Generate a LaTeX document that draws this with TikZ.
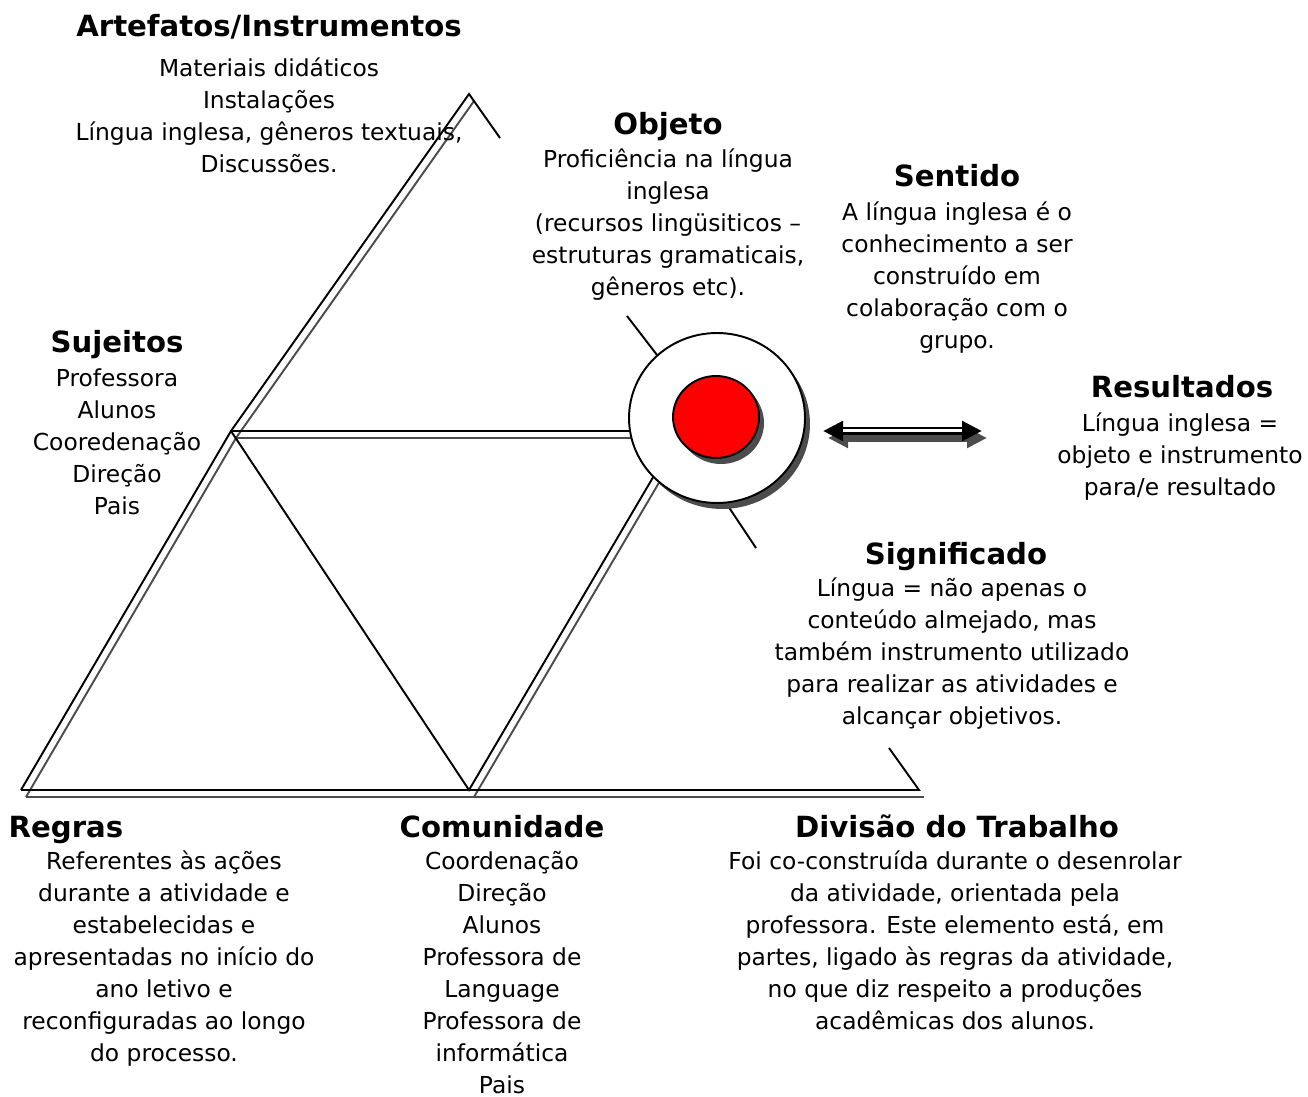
\documentclass[tikz,border=0pt]{standalone}
\usepackage{fontspec}
\setmainfont{DejaVu Sans}
\usetikzlibrary{positioning, arrows.meta, shapes.geometric, shadows}
\tikzset{
		titulo/.style={font=\fontsize{16.6}{20}\selectfont\bfseries, align=center, anchor=base, inner sep=0pt},
		texto/.style={font=\fontsize{13.3}{18.21}\selectfont, align=center, anchor=base, inner sep=0pt},
		traco/.style={line width=1.1pt},
		sombra/.style={draw=black!70, line width=1.1pt, transform canvas={xshift=.1cm, yshift=-.14cm}},
		anel/.style={ellipse, draw, fill=white, line width=1.1pt, inner sep=0pt,
			drop shadow={shadow xshift=.1cm, shadow yshift=-.12cm, fill=black!70, opacity=1}},
		seta/.style={{Triangle[length=.4cm, width=.38cm]}-{Triangle[length=.4cm, width=.38cm]}, line width=.16cm}
	}

\begin{document}
\begin{tikzpicture}[x=0.02cm, y=-0.02cm]
	\useasboundingbox (0,0) rectangle (1308,1097);

	\coordinate (A)  at (469,94);
	\coordinate (LM) at (231,431);
	\coordinate (BL) at (21,790);
	\coordinate (BM) at (469,790);
	\coordinate (BR) at (919,790);
	\coordinate (O)  at (717,418);
	\coordinate (a1) at (500,138);
	\coordinate (a2) at (627,316);
	\coordinate (c1) at (657,355);
	\coordinate (c2) at (728,506);
	\coordinate (a3) at (756,548);
	\coordinate (a4) at (889,748);
	\coordinate (c3) at (660,431);
	\coordinate (c4) at (665,457);
	\coordinate (r1) at (823,431);
	\coordinate (r2) at (982,431);

	\draw[sombra] (BL) -- (LM) -- (A);
	\draw[sombra] (BL) -- (BR);
	\draw[sombra] (LM) -- (c3);
	\draw[sombra] (BM) -- (c4);

	\draw[traco] (BL) -- (LM) -- (A) -- (a1);
	\draw[traco] (a2) -- (c1);
	\draw[traco] (c2) -- (a3);
	\draw[traco] (a4) -- (BR) -- (BL);
	\draw[traco] (LM) -- (c3);
	\draw[traco] (LM) -- (BM) -- (c4);

	\node[anel, minimum width=3.52cm, minimum height=3.4cm] (alvo) at (O) {};
	\node[anel, fill=red, minimum width=1.72cm, minimum height=1.64cm,
		drop shadow={shadow xshift=.08cm, shadow yshift=-.08cm, fill=black!70, opacity=1}] (centro) at (716,417) {};

	\draw[seta, draw=black!70, transform canvas={xshift=.1cm, yshift=-.14cm}] (r1) -- (r2);
	\draw[seta] (r1) -- (r2);
	\draw[white, line width=.06cm, shorten <=.4cm, shorten >=.4cm] (r1) -- (r2);

	\node[titulo] (artefatos) at (269,37) {Artefatos/Instrumentos};
	\node[texto] (artefatosTxt) [below=2.72cm of artefatos.base, anchor=base]
		{Materiais didáticos\\Instalações\\Língua inglesa, gêneros textuais,\\Discussões.};

	\node[titulo] (objeto) at (668,135) {Objeto};
	\node[texto] (objetoTxt) [below=3.22cm of objeto.base, anchor=base]
		{Proficiência na língua\\inglesa\\(recursos lingüsiticos –\\estruturas gramaticais,\\gêneros etc).};

	\node[titulo] (sentido) at (957,187) {Sentido};
	\node[texto] (sentidoTxt) [below=3.24cm of sentido.base, anchor=base]
		{A língua inglesa é o\\conhecimento a ser\\construído em\\colaboração com o\\grupo.};

	\node[titulo] (sujeitos) at (117,353) {Sujeitos};
	\node[texto] (sujeitosTxt) [below=3.24cm of sujeitos.base, anchor=base]
		{Professora\\Alunos\\Cooredenação\\Direção\\Pais};

	\node[titulo] (resultados) at (1182,398) {Resultados};
	\node[texto] (resultadosTxt) [below=1.96cm of resultados.base, anchor=base, xshift=-.04cm]
		{Língua inglesa =\\objeto e instrumento\\para/e resultado};

	\node[titulo] (significado) at (956,565) {Significado};
	\node[texto] (significadoTxt) [below=3.2cm of significado.base, anchor=base, xshift=-.08cm]
		{Língua = não apenas o\\conteúdo almejado, mas\\também instrumento utilizado\\para realizar as atividades e\\alcançar objetivos.};

	\node[titulo] (regras) at (66,837) {Regras};
	\node[texto] (regrasTxt) [below=4.5cm of regras.base, anchor=base, xshift=1.96cm]
		{Referentes às ações\\durante a atividade e\\estabelecidas e\\apresentadas no início do\\ano letivo e\\reconfiguradas ao longo\\do processo.};

	\node[titulo] (comunidade) at (502,837) {Comunidade};
	\node[texto] (comunidadeTxt) [below=5.14cm of comunidade.base, anchor=base]
		{Coordenação\\Direção\\Alunos\\Professora de\\Language\\Professora de\\informática\\Pais};

	\node[titulo] (divisao) at (957,837) {Divisão do Trabalho};
	\node[texto] (divisaoTxt) [below=3.86cm of divisao.base, anchor=base, xshift=-.04cm]
		{Foi co-construída durante o desenrolar\\da atividade, orientada pela\\professora. Este elemento está, em\\partes, ligado às regras da atividade,\\no que diz respeito a produções\\acadêmicas dos alunos.};
\end{tikzpicture}
\end{document}
